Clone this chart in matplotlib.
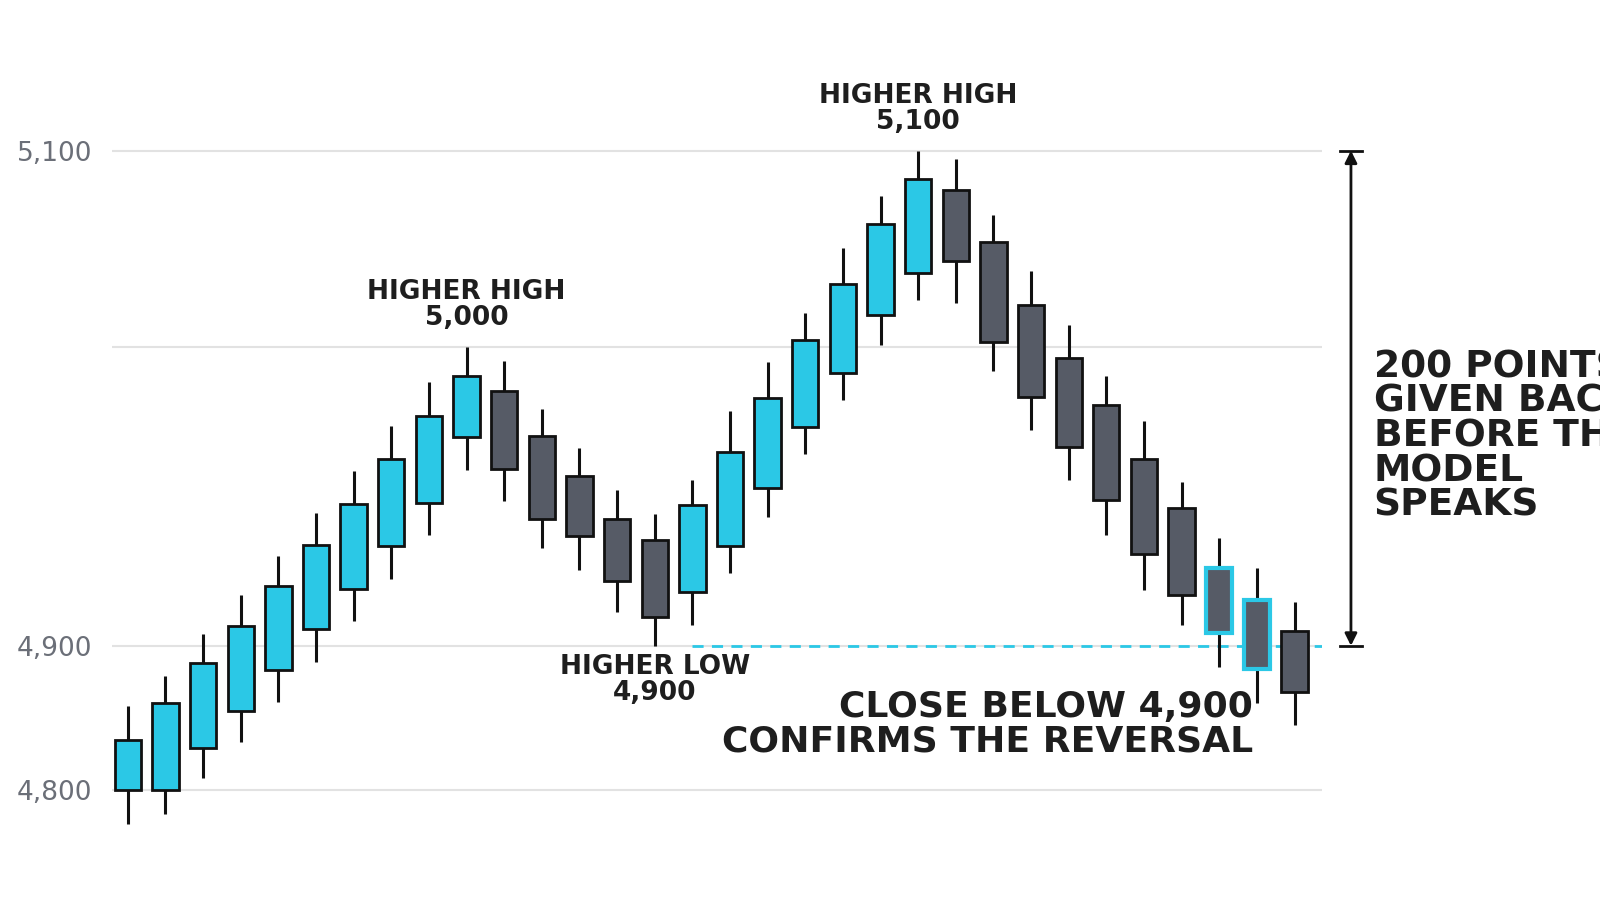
import numpy as np
import matplotlib
matplotlib.use("Agg")
import matplotlib.pyplot as plt
from matplotlib.scale import FuncScale

opens  = [4800,4800,4829,4855,4883,4905.7,4919,4933.4,4947.8,4969.9,4985.3,4970.2,4956.9,4942.5,4935.5,4918.1,4933.4,4952.8,4973.2,4991.3,5016.3,5037.8,5080.1,5053.6,5021.4,4996.3,4980.6,4962.5,4946.2,4926.1,4915.4,4905]
closes = [4834.7,4860,4888,4906.7,4920,4933.8,4947.5,4962.5,4976.9,4990.3,4959.2,4942.5,4936.8,4921.7,4909.7,4947.2,4964.9,4982.9,5003.6,5032.1,5062.8,5085.7,5043.9,5002.6,4983.3,4966.6,4948.8,4930.8,4917.1,4904.3,4884,4868]
highs  = [4858,4879,4904,4917,4930,4944.5,4958.5,4973.6,4988.3,5000,4995.3,4979.3,4966.2,4952.2,4944.1,4955.5,4978.6,4995,5017.3,5050.5,5077,5100,5095.9,5067.3,5038.8,5011.2,4990.3,4975.3,4954.8,4936.1,4926.1,4914.7]
lows   = [4776,4783,4808,4833,4861,4889,4908.4,4922.4,4937,4958.9,4948.5,4932.8,4925.4,4911.4,4900,4907,4924.4,4943.1,4964.2,4982.3,5001,5024,5022.4,4992,4972.2,4955.5,4937.1,4918.7,4907,4885.4,4860.4,4845]
highlighted = [29, 30]
level = 4900

CYAN = "#2bc8e6"
GRAY = "#565b66"

sv = [4700, 4800, 4900, 5000, 5100, 5200]
sp = [-144, 0, 144, 443, 639, 835]
fwd = lambda v: np.interp(v, sv, sp)
inv = lambda p: np.interp(p, sp, sv)

FAM = ["Liberation Sans Narrow", "DejaVu Sans"]

fig = plt.figure(figsize=(16, 9), dpi=100)
ax = fig.add_axes([0.07, 0.0744, 0.756, 0.8236])
ax.set_yscale(FuncScale(ax.yaxis, (fwd, inv)))
ax.set_ylim(4770, 5130)
ax.set_xlim(-0.42, 31.72)
for s in ax.spines.values():
    s.set_visible(False)
for g in [4800, 4900, 5000, 5100]:
    ax.axhline(g, color="#e2e2e2", lw=1.5, zorder=0)
ax.set_xticks([])
ax.set_yticks([4800, 4900, 5100])
ax.set_yticklabels(["4,800", "4,900", "5,100"])
ax.tick_params(axis="y", length=0, pad=14, labelsize=19, labelcolor="#6b6f78")
for t in ax.get_yticklabels():
    t.set_family(FAM)

fnt = dict(family=FAM, fontweight="bold", color="#1e1e1e")

ax.plot([15, 31.72], [level, level], ls=(0, (4, 3)), color=CYAN, lw=2, zorder=1)

w = 0.7
for i, (o, c, h, l) in enumerate(zip(opens, closes, highs, lows)):
    ax.vlines(i, l, h, color="#111111", lw=2.2, zorder=2)
    fc = CYAN if c >= o else GRAY
    ec = CYAN if i in highlighted else "#111111"
    lw = 3 if i in highlighted else 2
    ax.bar(i, abs(c - o), bottom=min(o, c), width=w, color=fc, edgecolor=ec, linewidth=lw, zorder=3)

ax.text(9, 5008, "HIGHER HIGH\n5,000", ha="center", va="bottom", fontsize=19, linespacing=1.0, **fnt)
ax.text(21, 5108, "HIGHER HIGH\n5,100", ha="center", va="bottom", fontsize=19, linespacing=1.0, **fnt)
ax.text(14, 4894, "HIGHER LOW\n4,900", ha="center", va="top", fontsize=19, linespacing=1.0, **fnt)
ax.text(29.9, 4869, "CLOSE BELOW 4,900\nCONFIRMS THE REVERSAL", ha="right", va="top", fontsize=26, linespacing=1.0, **fnt)

ax.annotate("", xy=(32.5, 4900), xytext=(32.5, 5100), annotation_clip=False,
            arrowprops=dict(arrowstyle="<|-|>", color="#111111", lw=2, mutation_scale=18, shrinkA=0, shrinkB=0))
for v in (4900, 5100):
    ax.plot([32.2, 32.8], [v, v], color="#111111", lw=2, clip_on=False)
ax.text(33.1, 4970, "200 POINTS\nGIVEN BACK\nBEFORE THE\nMODEL\nSPEAKS", ha="left", va="center", fontsize=27, linespacing=0.95, **fnt)

fig.savefig("out.png", dpi=100, facecolor="white")
